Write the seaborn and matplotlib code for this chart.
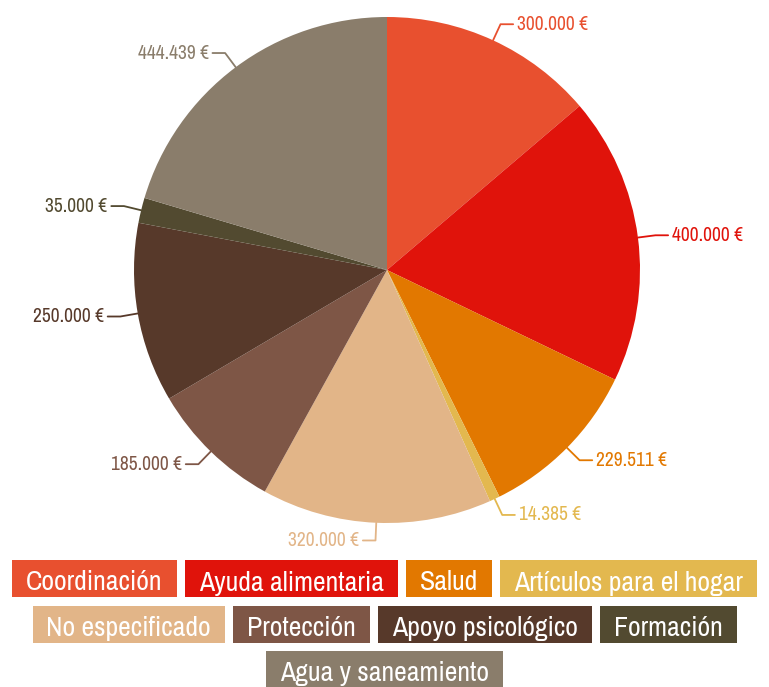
import numpy as np
import matplotlib
matplotlib.use('Agg')
import matplotlib.pyplot as plt
from matplotlib import font_manager
from matplotlib.patches import Rectangle
import seaborn as sns

categories = ['Coordinación', 'Ayuda alimentaria', 'Salud', 'Artículos para el hogar',
              'No especificado', 'Protección', 'Apoyo psicológico', 'Formación',
              'Agua y saneamiento']
amounts = [300000, 400000, 229511, 14385, 320000, 185000, 250000, 35000, 444439]
value_labels = ['300.000 €', '400.000 €', '229.511 €', '14.385 €', '320.000 €',
                '185.000 €', '250.000 €', '35.000 €', '444.439 €']
colors = ['#E8502F', '#E0130B', '#E27800', '#E3B84F', '#E2B588',
          '#7E5646', '#57392A', '#524A30', '#8A7D6B']

sns.set_theme(style='white')

# look for a narrow face, the reference uses a condensed sans
narrow = None
for f in font_manager.fontManager.ttflist:
    if ('Narrow' in f.name or 'Condensed' in f.name) and f.weight in (400, 'normal', 'regular'):
        narrow = f.name
        break
if narrow is None:
    for f in font_manager.fontManager.ttflist:
        if f.stretch in ('condensed', 'semi-condensed') or 'ondensed' in f.fname:
            narrow = f.name
            break
fam = [narrow, 'DejaVu Sans'] if narrow else ['DejaVu Sans']
plt.rcParams['font.family'] = fam
plt.rcParams['font.stretch'] = 'condensed'
is_narrow = narrow is not None

W, H = 769, 687
fig = plt.figure(figsize=(W / 100, H / 100), dpi=100)
cx, cy, r = 387, 270, 253
ax = fig.add_axes([(cx - r) / W, (H - cy - r) / H, 2 * r / W, 2 * r / H])
palette = sns.color_palette(colors)

wedges, _ = ax.pie(amounts, colors=palette, startangle=90, counterclock=False,
                   radius=1, wedgeprops=dict(linewidth=0))
ax.set_xlim(-1, 1)
ax.set_ylim(-1, 1)
ax.set_aspect('equal')
ax.axis('off')

lab_size = 14 if is_narrow else 11.5
# leader lines and value labels
for w, lab, col in zip(wedges, value_labels, palette):
    ang = np.deg2rad((w.theta1 + w.theta2) / 2)
    x0, y0 = np.cos(ang), np.sin(ang)
    x1, y1 = 1.07 * x0, 1.07 * y0
    side = 1 if x0 >= 0 else -1
    x2 = x1 + side * 0.05
    ax.plot([x0, x1, x2], [y0, y1, y1], color=col, lw=1.3, clip_on=False)
    ax.text(x2 + side * 0.015, y1, lab, color=col, fontsize=lab_size,
            ha='left' if side > 0 else 'right', va='center', clip_on=False)

# legend as coloured boxes, wrapped in centred rows
leg_size = 20 if is_narrow else 14
hpad, box_h, gap = 14, 37, 8
fig.canvas.draw()
renderer = fig.canvas.get_renderer()
texts = []
for cat in categories:
    t = fig.text(0, 0, cat, color='white', fontsize=leg_size, ha='center',
                 va='center_baseline', zorder=3)
    texts.append(t)
fig.canvas.draw()
widths = [t.get_window_extent(renderer).width + 2 * hpad for t in texts]

rows, row, row_w = [], [], 0
for i, wd in enumerate(widths):
    need = wd if not row else row_w + gap + wd
    if need > W - 4 and row:
        rows.append(row)
        row, row_w = [i], wd
    else:
        row.append(i)
        row_w = need
rows.append(row)

y = 578.5
for row in rows:
    total = sum(widths[i] for i in row) + gap * (len(row) - 1)
    x = (W - total) / 2
    for i in row:
        fig.patches.append(Rectangle((x / W, (H - y - box_h / 2) / H),
                                     widths[i] / W, box_h / H,
                                     transform=fig.transFigure, fc=palette[i],
                                     ec='none', zorder=2))
        texts[i].set_position(((x + widths[i] / 2) / W, (H - y - 2) / H))
        x += widths[i] + gap
    y += 45.5

fig.savefig('out.png', dpi=100)
